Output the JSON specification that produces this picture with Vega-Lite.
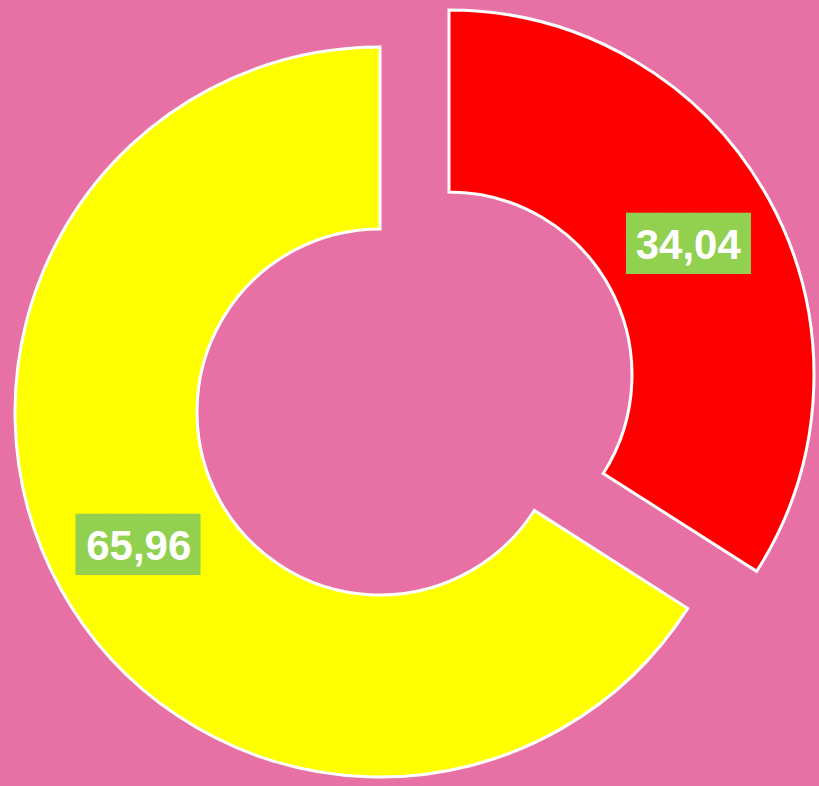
{
  "$schema": "https://vega.github.io/schema/vega-lite/v6.json",
  "width": 760,
  "height": 748,
  "padding": {"top": 38, "left": 0, "right": 59, "bottom": 0},
  "autosize": {"type": "none"},
  "background": "#E771A4",
  "config": {
    "view": {"stroke": null},
    "locale": {"number": {"decimal": ",", "thousands": ".", "grouping": [3], "currency": ["", ""]}}
  },
  "data": {"values": [
    {"slice": "A", "value": 34.04, "order": 1},
    {"slice": "B", "value": 65.96, "order": 2}
  ]},
  "encoding": {
    "theta": {"field": "value", "type": "quantitative", "stack": true, "scale": {"domain": [0, 100]}},
    "order": {"field": "order", "type": "quantitative"}
  },
  "layer": [
    {
      "mark": {"type": "arc", "outerRadius": 365, "innerRadius": 183, "stroke": "white", "strokeWidth": 3},
      "encoding": {
        "color": {"field": "slice", "type": "nominal", "scale": {"domain": ["A", "B"], "range": ["#FF0000", "#FFFF00"]}, "legend": null},
        "opacity": {"condition": {"test": "datum.slice === 'B'", "value": 1}, "value": 0}
      }
    },
    {
      "mark": {"type": "arc", "outerRadius": 365, "innerRadius": 183, "stroke": "white", "strokeWidth": 3, "xOffset": 69, "yOffset": -37},
      "encoding": {
        "color": {"field": "slice", "type": "nominal", "scale": {"domain": ["A", "B"], "range": ["#FF0000", "#FFFF00"]}, "legend": null},
        "opacity": {"condition": {"test": "datum.slice === 'A'", "value": 1}, "value": 0}
      }
    },
    {
      "mark": {"type": "text", "radius": 274, "font": "DejaVu Sans Mono", "fontSize": 51.5, "color": "#92D050", "baseline": "middle", "align": "center", "dx": -2, "dy": 3},
      "encoding": {
        "text": {"value": "████"},
        "opacity": {"condition": {"test": "datum.slice === 'B'", "value": 1}, "value": 0}
      }
    },
    {
      "mark": {"type": "text", "radius": 274, "font": "DejaVu Sans Mono", "fontSize": 51.5, "color": "#92D050", "baseline": "middle", "align": "center", "dx": 68, "dy": -34},
      "encoding": {
        "text": {"value": "████"},
        "opacity": {"condition": {"test": "datum.slice === 'A'", "value": 1}, "value": 0}
      }
    },
    {
      "mark": {"type": "text", "radius": 274, "font": "Liberation Sans", "fontWeight": "bold", "fontSize": 42, "color": "white", "baseline": "middle", "align": "center", "dx": -1, "dy": 3},
      "encoding": {
        "text": {"field": "value", "type": "quantitative", "format": ".2f"},
        "opacity": {"condition": {"test": "datum.slice === 'B'", "value": 1}, "value": 0}
      }
    },
    {
      "mark": {"type": "text", "radius": 274, "font": "Liberation Sans", "fontWeight": "bold", "fontSize": 42, "color": "white", "baseline": "middle", "align": "center", "dx": 68, "dy": -34},
      "encoding": {
        "text": {"field": "value", "type": "quantitative", "format": ".2f"},
        "opacity": {"condition": {"test": "datum.slice === 'A'", "value": 1}, "value": 0}
      }
    }
  ]
}
